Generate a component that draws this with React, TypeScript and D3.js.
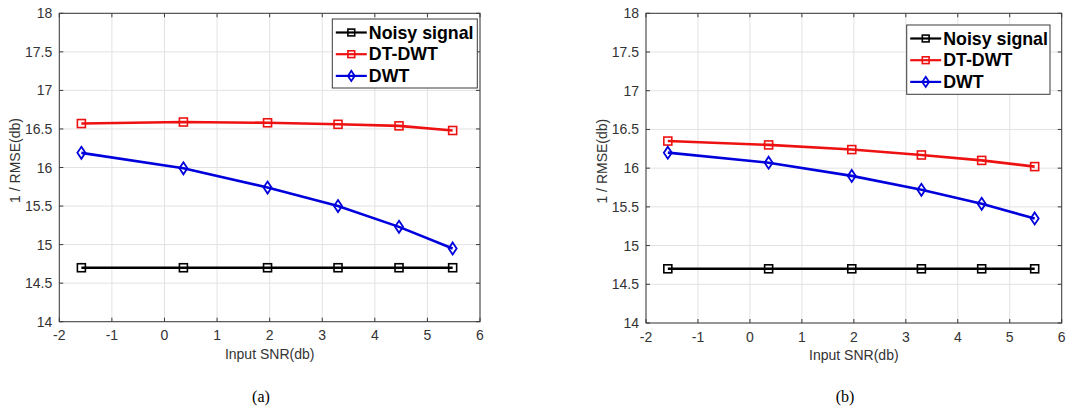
import React from "react";
import * as d3 from "d3";

const snr = [-1.58, 0.36, 1.96, 3.3, 4.46, 5.48];
const noisyA = [14.7, 14.7, 14.7, 14.7, 14.7, 14.7];
const dtdwtA = [16.57, 16.59, 16.58, 16.56, 16.54, 16.48];
const dwtA = [16.19, 15.99, 15.74, 15.5, 15.23, 14.95];
const noisyB = [14.7, 14.7, 14.7, 14.7, 14.7, 14.7];
const dtdwtB = [16.35, 16.3, 16.24, 16.17, 16.1, 16.02];
const dwtB = [16.2, 16.07, 15.9, 15.72, 15.54, 15.35];

const xTicks = [-2, -1, 0, 1, 2, 3, 4, 5, 6];
const yTicks = [14, 14.5, 15, 15.5, 16, 16.5, 17, 17.5, 18];
const seriesNames = ["Noisy signal", "DT-DWT", "DWT"];
const seriesColors = ["#000000", "#ee1111", "#0000dd"];
const seriesMarkers = ["square", "square", "diamond"];
const captions = ["(a)", "(b)"];

const FONT = "'Liberation Sans', Arial, sans-serif";

function Marker({ type, x, y, color, s = 1 }: { type: string; x: number; y: number; color: string; s?: number }) {
  if (type === "square") {
    const h = 4 * s;
    return <rect x={x - h} y={y - h} width={2 * h} height={2 * h} fill="none" stroke={color} strokeWidth={1.6} />;
  }
  const p = `M${x},${y - 6 * s} L${x + 4 * s},${y} L${x},${y + 6 * s} L${x - 4 * s},${y} Z`;
  return <path d={p} fill="none" stroke={color} strokeWidth={1.8} />;
}

function Panel({ box, legend, data, caption }: any) {
  const x = d3.scaleLinear().domain([-2, 6]).range([box.x0, box.x1]);
  const y = d3.scaleLinear().domain([14, 18]).range([box.y1, box.y0]);
  const line = d3.line<number>().x((_, i) => x(snr[i])).y((d) => y(d));
  const grid = "#e2e2e2";
  const axisC = "#3a3a3a";
  const cx = (box.x0 + box.x1) / 2;
  const cy = (box.y0 + box.y1) / 2;
  return (
    <g>
      {xTicks.map((t) => (
        <line key={"gx" + t} x1={x(t)} x2={x(t)} y1={box.y0} y2={box.y1} stroke={grid} strokeWidth={1} />
      ))}
      {yTicks.map((t) => (
        <line key={"gy" + t} x1={box.x0} x2={box.x1} y1={y(t)} y2={y(t)} stroke={grid} strokeWidth={1} />
      ))}
      {xTicks.map((t) => (
        <g key={"tx" + t}>
          <line x1={x(t)} x2={x(t)} y1={box.y1} y2={box.y1 - 4} stroke={axisC} />
          <line x1={x(t)} x2={x(t)} y1={box.y0} y2={box.y0 + 4} stroke={axisC} />
          <text x={x(t)} y={box.y1 + 18.5} textAnchor="middle" fontFamily={FONT} fontSize={14} fill="#333">
            {t}
          </text>
        </g>
      ))}
      {yTicks.map((t) => (
        <g key={"ty" + t}>
          <line x1={box.x0} x2={box.x0 + 4} y1={y(t)} y2={y(t)} stroke={axisC} />
          <line x1={box.x1} x2={box.x1 - 4} y1={y(t)} y2={y(t)} stroke={axisC} />
          <text x={box.x0 - 7} y={y(t) + 5} textAnchor="end" fontFamily={FONT} fontSize={14} fill="#333">
            {t}
          </text>
        </g>
      ))}
      <rect x={box.x0} y={box.y0} width={box.x1 - box.x0} height={box.y1 - box.y0} fill="none" stroke={axisC} strokeWidth={1} />
      {data.map((vals: number[], si: number) => (
        <g key={"s" + si}>
          <path d={line(vals) || ""} fill="none" stroke={seriesColors[si]} strokeWidth={2.6} />
          {vals.map((v, i) => (
            <Marker key={i} type={seriesMarkers[si]} x={x(snr[i])} y={y(v)} color={seriesColors[si]} />
          ))}
        </g>
      ))}
      <rect x={legend.x} y={legend.y} width={legend.w} height={legend.h} fill="#fff" stroke={axisC} strokeWidth={1} />
      {seriesNames.map((n, i) => {
        const ly = legend.y + 13.5 + i * 21.7;
        const lx0 = legend.x + 3.5;
        const lx1 = lx0 + 31;
        return (
          <g key={"l" + i}>
            <line x1={lx0} x2={lx1} y1={ly} y2={ly} stroke={seriesColors[i]} strokeWidth={2.2} />
            <Marker type={seriesMarkers[i]} x={(lx0 + lx1) / 2} y={ly} color={seriesColors[i]} s={0.85} />
            <text x={lx1 + 2} y={ly + 6.2} fontFamily={FONT} fontWeight="bold" fontSize={17.8} fill="#000">
              {n}
            </text>
          </g>
        );
      })}
      <text x={cx} y={box.y1 + 37} textAnchor="middle" fontFamily={FONT} fontSize={14} fill="#333">
        Input SNR(db)
      </text>
      <text
        transform={`translate(${box.x0 - 39.5},${cy - 7}) rotate(-90)`}
        textAnchor="middle"
        fontFamily={FONT}
        fontSize={14}
        fill="#333"
      >
        1 / RMSE(db)
      </text>
      <text x={caption.x} y={caption.y} textAnchor="middle" fontFamily="'Liberation Serif', 'Times New Roman', serif" fontSize={16} fill="#000">
        {caption.text}
      </text>
    </g>
  );
}

export default function App() {
  return (
    <svg width={1068} height={410} style={{ position: "absolute", left: 0, top: 0, background: "#fff" }}>
      <rect width={1068} height={410} fill="#fff" />
      <Panel
        box={{ x0: 59.3, x1: 480, y0: 13.3, y1: 321.7 }}
        legend={{ x: 332.3, y: 19, w: 145, h: 69 }}
        data={[noisyA, dtdwtA, dwtA]}
        caption={{ x: 261, y: 402, text: captions[0] }}
      />
      <Panel
        box={{ x0: 646, x1: 1061.7, y0: 13.3, y1: 323 }}
        legend={{ x: 906.7, y: 25, w: 143.3, h: 69.3 }}
        data={[noisyB, dtdwtB, dwtB]}
        caption={{ x: 845, y: 402, text: captions[1] }}
      />
    </svg>
  );
}
